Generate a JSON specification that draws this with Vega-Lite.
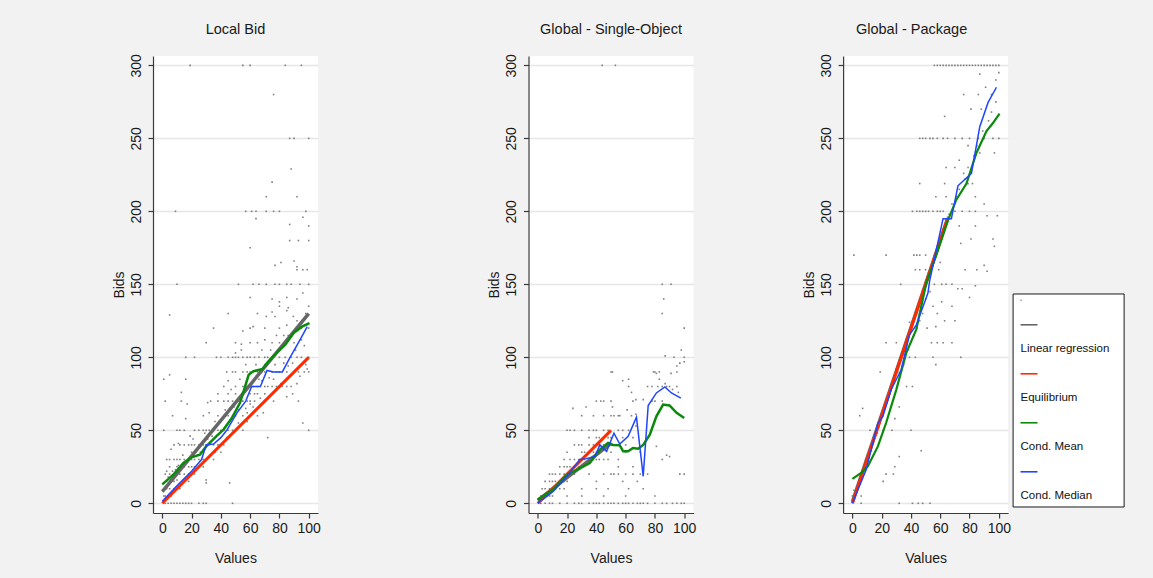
{
"$schema":"https://vega.github.io/schema/vega-lite/v6.json",
"background":"#f2f2f2",
"padding":{"left":112,"top":22,"right":28,"bottom":15},
"config":{
 "font":"Liberation Sans",
 "view":{"stroke":null,"fill":"white"},
 "title":{"font":"Liberation Sans","fontSize":14.5,"fontWeight":"normal","color":"#1a1a1a","frame":"group","anchor":"middle","offset":16},
 "axis":{"domainColor":"#3a3a3a","domainWidth":1.2,"tickColor":"#3a3a3a","tickWidth":1.2,"tickSize":5,"labelFont":"Liberation Sans","labelFontSize":14,"labelColor":"#1a1a1a","titleFont":"Liberation Sans","titleFontSize":14,"titleFontWeight":"normal","titleColor":"#1a1a1a","grid":false,"labelOverlap":false},
 "axisY":{"grid":true,"gridColor":"#e6e6e6","gridWidth":1.5,"labelAngle":-90,"labelPadding":5,"titlePadding":3},
 "axisX":{"labelPadding":3,"titlePadding":16}
},
"datasets":{
"p1":[
{"v":19,"b":300},{"v":55,"b":300},{"v":60,"b":300},{"v":84,"b":300},{"v":95,"b":300},{"v":76,"b":280},{"v":87,"b":250},{"v":90,"b":250},{"v":100,"b":250},{"v":88,"b":229},{"v":75,"b":220},{"v":71,"b":210},{"v":92,"b":210},
{"v":9,"b":200},{"v":57,"b":200},{"v":61,"b":200},{"v":64,"b":200},{"v":71,"b":200},{"v":76,"b":200},{"v":80,"b":200},{"v":98,"b":200},
{"v":64,"b":195},{"v":96,"b":196},{"v":87,"b":191},{"v":100,"b":190},{"v":87,"b":180},{"v":93,"b":180},{"v":100,"b":180},{"v":60,"b":175},{"v":77,"b":163},{"v":81,"b":165},{"v":90,"b":166},{"v":92,"b":162},{"v":92,"b":160},{"v":96,"b":160},{"v":99,"b":160},
{"v":10,"b":150},{"v":52,"b":150},{"v":62,"b":150},{"v":66,"b":150},{"v":71,"b":150},{"v":77,"b":150},{"v":80,"b":150},{"v":85,"b":150},{"v":88,"b":150},{"v":94,"b":150},{"v":100,"b":150},
{"v":60,"b":141},{"v":75,"b":140},{"v":85,"b":141},{"v":92,"b":140},{"v":96,"b":144},{"v":80,"b":138},
{"v":5,"b":129},{"v":45,"b":130},{"v":65,"b":130},{"v":75,"b":131},{"v":85,"b":132},{"v":98,"b":130},{"v":71,"b":128},{"v":77,"b":128},{"v":89.5,"b":128},{"v":100,"b":135},{"v":86,"b":134},{"v":80,"b":135},
{"v":35,"b":120},{"v":55,"b":118},{"v":60,"b":120},{"v":62,"b":121},{"v":70,"b":120},{"v":80,"b":120},{"v":85,"b":122},{"v":95,"b":120},{"v":100,"b":120},
{"v":30,"b":110},{"v":50,"b":110},{"v":54,"b":109},{"v":60,"b":110},{"v":65,"b":110},{"v":70,"b":112},{"v":75,"b":110},{"v":80,"b":110},{"v":90,"b":110},
{"v":16,"b":100},{"v":22,"b":100},{"v":37,"b":100},{"v":40,"b":100},{"v":45,"b":100},{"v":48,"b":100},{"v":50,"b":100},{"v":50,"b":103},{"v":52,"b":100},{"v":54,"b":105},{"v":55,"b":100},{"v":58,"b":100},{"v":60,"b":100},{"v":63,"b":100},{"v":66,"b":100},{"v":70,"b":100},{"v":72,"b":100},{"v":75,"b":100},{"v":80,"b":100},{"v":84,"b":100},{"v":88,"b":100},{"v":92,"b":100},{"v":95,"b":100},{"v":100,"b":100},
{"v":44,"b":90},{"v":45,"b":84},{"v":48,"b":90},{"v":50,"b":90},{"v":55,"b":90},{"v":58,"b":90},{"v":60,"b":90},{"v":62,"b":90},{"v":65,"b":90},{"v":68,"b":90},{"v":70,"b":90},{"v":75,"b":90},{"v":76,"b":85},{"v":78,"b":90},{"v":80,"b":90},{"v":81,"b":82},{"v":85,"b":90},{"v":90,"b":90},{"v":92,"b":82},{"v":93,"b":90},{"v":94,"b":87},{"v":97,"b":90},{"v":99,"b":92},{"v":100,"b":90},{"v":16,"b":85},{"v":1,"b":85},{"v":5,"b":88},
{"v":42,"b":80},{"v":50,"b":80},{"v":55,"b":80},{"v":58,"b":80},{"v":60,"b":80},{"v":62,"b":80},{"v":65,"b":80},{"v":70,"b":80},{"v":72,"b":80},{"v":75,"b":80},{"v":78,"b":80},{"v":80,"b":80},{"v":82,"b":80},{"v":85,"b":80},{"v":88,"b":80},{"v":85,"b":73},{"v":13,"b":76},
{"v":38,"b":75},{"v":45,"b":75},{"v":50,"b":75},{"v":55,"b":75},{"v":60,"b":75},{"v":65,"b":75},{"v":70,"b":75},
{"v":33,"b":70},{"v":38,"b":70},{"v":42,"b":70},{"v":45,"b":70},{"v":48,"b":70},{"v":52,"b":70},{"v":55,"b":70},{"v":58,"b":70},{"v":60,"b":70},{"v":63,"b":70},{"v":13,"b":70},{"v":2,"b":70},{"v":31,"b":69},{"v":60,"b":68},{"v":17,"b":68},
{"v":28,"b":60},{"v":32,"b":62},{"v":38,"b":60},{"v":42,"b":60},{"v":45,"b":60},{"v":48,"b":60},{"v":50,"b":60},{"v":55,"b":60},{"v":65,"b":60},{"v":16,"b":58},{"v":36,"b":56},{"v":96,"b":55},{"v":7,"b":60},
{"v":1,"b":50},{"v":10,"b":50},{"v":12,"b":50},{"v":15,"b":50},{"v":22,"b":50},{"v":25,"b":50},{"v":28,"b":50},{"v":29,"b":48},{"v":30,"b":50},{"v":32,"b":50},{"v":35,"b":50},{"v":38,"b":50},{"v":40,"b":50},{"v":42,"b":50},{"v":45,"b":50},{"v":48,"b":50},{"v":50,"b":50},{"v":55,"b":50},{"v":100,"b":50},{"v":72,"b":45},{"v":19,"b":46},{"v":21,"b":44},
{"v":8,"b":40},{"v":11,"b":41},{"v":12,"b":40},{"v":15,"b":40},{"v":18,"b":40},{"v":20,"b":40},{"v":22,"b":40},{"v":25,"b":40},{"v":28,"b":40},{"v":30,"b":40},{"v":35,"b":40},{"v":38,"b":40},{"v":40,"b":40},{"v":42,"b":40},{"v":6,"b":37},
{"v":3,"b":30},{"v":5,"b":30},{"v":8,"b":30},{"v":10,"b":30},{"v":12,"b":30},{"v":15,"b":30},{"v":18,"b":30},{"v":20,"b":30},{"v":22,"b":30},{"v":25,"b":30},{"v":28,"b":30},{"v":30,"b":30},{"v":35,"b":30},
{"v":5,"b":25},{"v":9,"b":23},{"v":10,"b":25},{"v":15,"b":25},{"v":18,"b":25},{"v":20,"b":25},{"v":22,"b":25},{"v":25,"b":25},{"v":28,"b":25},
{"v":2,"b":20},{"v":5,"b":20},{"v":8,"b":20},{"v":10,"b":20},{"v":12,"b":20},{"v":15,"b":20},{"v":18,"b":20},{"v":20,"b":20},{"v":22,"b":20},
{"v":3,"b":15},{"v":5,"b":15},{"v":8,"b":15},{"v":10,"b":16},{"v":15,"b":15},{"v":18,"b":15},{"v":30,"b":14},{"v":30,"b":16},{"v":46,"b":14},
{"v":1,"b":10},{"v":3,"b":10},{"v":5,"b":10},{"v":8,"b":10},{"v":10,"b":10},{"v":12,"b":10},{"v":1,"b":5},{"v":2,"b":5},{"v":4,"b":5},{"v":6,"b":5},
{"v":2,"b":0},{"v":4,"b":0},{"v":6,"b":0},{"v":8,"b":0},{"v":10,"b":0},{"v":12,"b":0},{"v":14,"b":0},{"v":16,"b":0},{"v":18,"b":0},{"v":20,"b":0},{"v":25,"b":0},{"v":28,"b":0},{"v":30,"b":0},{"v":48,"b":0},
{"v":46,"b":65},{"v":49,"b":66},{"v":52,"b":64},{"v":57,"b":65},{"v":62,"b":66},{"v":67,"b":72},{"v":68,"b":84},{"v":73,"b":86},{"v":77,"b":95},{"v":83,"b":96},{"v":86,"b":94},{"v":89,"b":96},{"v":91,"b":105},{"v":97,"b":108},{"v":83,"b":115},{"v":78,"b":115},{"v":68,"b":105},{"v":64,"b":95},{"v":57,"b":95},{"v":53,"b":85},{"v":47,"b":78},{"v":43,"b":64},{"v":40,"b":56},{"v":34,"b":46},{"v":31,"b":44},{"v":26,"b":35},{"v":24,"b":33},{"v":20,"b":35},{"v":14,"b":33},{"v":11,"b":26},{"v":7,"b":22},{"v":4,"b":18},{"v":3,"b":22},{"v":36,"b":35},{"v":40,"b":35},{"v":44,"b":45},{"v":52,"b":55},{"v":58,"b":62},{"v":63,"b":75},{"v":66,"b":85},{"v":70,"b":95},{"v":74,"b":105},{"v":86,"b":115},{"v":92,"b":125},{"v":95,"b":112},{"v":98,"b":95},{"v":93,"b":70},{"v":89,"b":75},{"v":76,"b":70},{"v":69,"b":62},{"v":58,"b":56}
],
"p2":[
{"v":44,"b":300},{"v":53,"b":300},
{"v":85,"b":150},{"v":91,"b":150},{"v":86,"b":140},{"v":85,"b":130},{"v":100,"b":120},{"v":98,"b":105},{"v":100,"b":100},{"v":87,"b":101},{"v":100,"b":97},{"v":93,"b":100},
{"v":51,"b":90},{"v":58,"b":84},{"v":62,"b":85},{"v":64,"b":76},{"v":67,"b":71},{"v":72,"b":71},{"v":79,"b":90},{"v":81,"b":89},{"v":83,"b":85},{"v":87,"b":82},{"v":91,"b":89},{"v":95,"b":94},{"v":97,"b":96},{"v":92,"b":78},{"v":96,"b":76},{"v":64,"b":60},{"v":67,"b":61},{"v":61,"b":64},{"v":56,"b":60},{"v":67,"b":53},{"v":76,"b":46},{"v":81,"b":39},{"v":88,"b":33},{"v":90,"b":32},{"v":97,"b":20},{"v":100,"b":20},{"v":40,"b":70},{"v":43,"b":70},{"v":24,"b":65},{"v":33,"b":66},{"v":51,"b":66},
{"v":20,"b":50},{"v":22,"b":50},{"v":25,"b":50},{"v":30,"b":50},{"v":35,"b":50},{"v":38,"b":50},{"v":40,"b":50},{"v":45,"b":50},{"v":48,"b":50},{"v":55,"b":50},{"v":58,"b":50},{"v":62,"b":50},
{"v":30,"b":60},{"v":38,"b":60},{"v":45,"b":60},{"v":50,"b":60},{"v":52,"b":60},{"v":55,"b":60},
{"v":2,"b":0},{"v":5,"b":0},{"v":8,"b":0},{"v":10,"b":0},{"v":15,"b":0},{"v":20,"b":0},{"v":25,"b":0},{"v":28,"b":0},{"v":30,"b":0},{"v":35,"b":0},{"v":38,"b":0},{"v":40,"b":0},{"v":42,"b":0},{"v":45,"b":0},{"v":48,"b":0},{"v":50,"b":0},{"v":52,"b":0},{"v":55,"b":0},{"v":58,"b":0},{"v":60,"b":0},{"v":62,"b":0},{"v":65,"b":0},{"v":68,"b":0},{"v":70,"b":0},{"v":72,"b":0},{"v":75,"b":0},{"v":80,"b":0},{"v":85,"b":0},{"v":88,"b":0},{"v":92,"b":0},{"v":95,"b":0},{"v":98,"b":0},{"v":100,"b":0},
{"v":8,"b":20},{"v":10,"b":20},{"v":12,"b":20},{"v":15,"b":20},{"v":18,"b":20},{"v":22,"b":20},{"v":25,"b":20},{"v":35,"b":20},{"v":45,"b":20},{"v":50,"b":20},{"v":52,"b":20},{"v":55,"b":20},{"v":60,"b":20},{"v":65,"b":20},{"v":70,"b":20},{"v":75,"b":20},
{"v":3,"b":10},{"v":5,"b":10},{"v":8,"b":10},{"v":12,"b":10},{"v":15,"b":10},{"v":18,"b":10},{"v":30,"b":10},{"v":40,"b":10},{"v":48,"b":10},{"v":62,"b":10},{"v":72,"b":10},
{"v":18,"b":30},{"v":22,"b":30},{"v":25,"b":30},{"v":28,"b":30},{"v":30,"b":30},{"v":32,"b":30},{"v":35,"b":30},{"v":38,"b":30},{"v":40,"b":30},{"v":42,"b":30},{"v":45,"b":30},{"v":48,"b":30},{"v":55,"b":30},{"v":85,"b":30},
{"v":25,"b":40},{"v":28,"b":40},{"v":30,"b":40},{"v":35,"b":40},{"v":38,"b":40},{"v":42,"b":40},{"v":45,"b":40},{"v":48,"b":40},{"v":50,"b":40},{"v":52,"b":40},{"v":55,"b":40},{"v":60,"b":40},
{"v":15,"b":25},{"v":18,"b":25},{"v":20,"b":25},{"v":22,"b":25},{"v":25,"b":25},{"v":28,"b":25},{"v":30,"b":25},{"v":55,"b":25},{"v":65,"b":25},
{"v":5,"b":15},{"v":8,"b":15},{"v":10,"b":15},{"v":12,"b":15},{"v":15,"b":15},{"v":18,"b":15},{"v":20,"b":15},{"v":40,"b":15},{"v":58,"b":15},{"v":68,"b":15},
{"v":2,"b":5},{"v":3,"b":5},{"v":5,"b":5},{"v":8,"b":5},{"v":10,"b":5},{"v":20,"b":5},{"v":30,"b":5},{"v":45,"b":5},{"v":60,"b":5},{"v":80,"b":5},
{"v":20,"b":35},{"v":30,"b":35},{"v":32,"b":35},{"v":38,"b":35},{"v":40,"b":35},{"v":42,"b":35},{"v":50,"b":35},{"v":60,"b":35},{"v":70,"b":35},
{"v":35,"b":45},{"v":40,"b":45},{"v":42,"b":45},{"v":48,"b":45},{"v":50,"b":45},{"v":58,"b":45},{"v":65,"b":45},
{"v":45,"b":70},{"v":50,"b":70},{"v":65,"b":70},{"v":78,"b":70},{"v":80,"b":70},{"v":85,"b":70},
{"v":62,"b":80},{"v":75,"b":80},{"v":78,"b":80},{"v":82,"b":80},{"v":85,"b":80},{"v":88,"b":80},{"v":90,"b":80},{"v":95,"b":80},
{"v":50,"b":90},{"v":80,"b":90},{"v":83,"b":90},{"v":95,"b":90}
],
"p3":[
{"v":56,"b":300},{"v":58,"b":300},{"v":60,"b":300},{"v":62,"b":300},{"v":64,"b":300},{"v":66,"b":300},{"v":68,"b":300},{"v":70,"b":300},{"v":72,"b":300},{"v":74,"b":300},{"v":76,"b":300},{"v":78,"b":300},{"v":80,"b":300},{"v":82,"b":300},{"v":84,"b":300},{"v":86,"b":300},{"v":88,"b":300},{"v":90,"b":300},{"v":92,"b":300},{"v":94,"b":300},{"v":96,"b":300},{"v":98,"b":300},{"v":100,"b":300},
{"v":76,"b":280},{"v":86,"b":280},{"v":95,"b":280},{"v":100,"b":295},{"v":98,"b":290},{"v":87,"b":294},{"v":81,"b":270},{"v":88,"b":270},{"v":97,"b":240},{"v":63,"b":265},{"v":87,"b":240},{"v":70,"b":230},{"v":64,"b":230},{"v":46,"b":219},{"v":63,"b":219},{"v":76,"b":226},{"v":79,"b":219},{"v":82,"b":219},{"v":57,"b":210},{"v":64,"b":210},{"v":84,"b":210},{"v":90,"b":205},{"v":99,"b":197},{"v":92,"b":197},{"v":73,"b":190},{"v":84,"b":190},{"v":74,"b":178},{"v":81,"b":181},{"v":96,"b":181},{"v":90,"b":163},{"v":92,"b":159},{"v":85,"b":160},{"v":77,"b":160},{"v":97,"b":176},
{"v":46,"b":250},{"v":48,"b":250},{"v":50,"b":250},{"v":53,"b":250},{"v":55,"b":250},{"v":58,"b":250},{"v":62,"b":250},{"v":65,"b":250},{"v":70,"b":250},{"v":75,"b":250},{"v":80,"b":250},{"v":86,"b":250},{"v":90,"b":250},{"v":96,"b":250},{"v":100,"b":250},
{"v":41,"b":200},{"v":44,"b":200},{"v":46,"b":200},{"v":48,"b":200},{"v":50,"b":200},{"v":52,"b":200},{"v":55,"b":200},{"v":58,"b":200},{"v":60,"b":200},{"v":62,"b":200},{"v":70,"b":200},{"v":75,"b":200},{"v":80,"b":200},{"v":84,"b":200},
{"v":1,"b":170},{"v":23,"b":170},{"v":42,"b":170},{"v":44,"b":170},{"v":46,"b":170},{"v":50,"b":170},
{"v":43,"b":160},{"v":46,"b":160},{"v":50,"b":160},{"v":59,"b":160},
{"v":33,"b":150},{"v":61,"b":150},{"v":64,"b":150},{"v":68,"b":150},{"v":72,"b":147},{"v":80,"b":141},{"v":75,"b":147},{"v":84,"b":149},{"v":61,"b":138},{"v":68,"b":135},{"v":55,"b":135},{"v":58,"b":130},{"v":70,"b":125},{"v":63,"b":125},{"v":57,"b":121},{"v":51,"b":120},{"v":44,"b":120},{"v":39,"b":124},{"v":54,"b":110},{"v":58,"b":110},{"v":62,"b":110},{"v":68,"b":110},{"v":23,"b":110},{"v":30,"b":110},{"v":55,"b":100},{"v":43,"b":100},{"v":39,"b":100},{"v":57,"b":95},{"v":74,"b":100},{"v":41,"b":80},{"v":37,"b":80},{"v":19,"b":90},{"v":7,"b":65},{"v":5,"b":60},{"v":32,"b":66},{"v":29,"b":58},{"v":40,"b":50},{"v":12,"b":50},{"v":16,"b":50},{"v":21,"b":50},{"v":27,"b":50},{"v":47,"b":36},{"v":29,"b":25},{"v":23,"b":20},{"v":28,"b":20},{"v":21,"b":15},{"v":32,"b":32},{"v":6,"b":5},{"v":6,"b":0},{"v":32,"b":0},{"v":41,"b":0},{"v":45,"b":0},{"v":48,"b":0},{"v":53,"b":0},{"v":0,"b":5},{"v":1,"b":9},{"v":4,"b":14},
{"v":8,"b":25},{"v":10,"b":28},{"v":12,"b":38},{"v":14,"b":42},{"v":15,"b":45},{"v":17,"b":48},{"v":19,"b":55},{"v":20,"b":62},{"v":22,"b":65},{"v":24,"b":72},{"v":25,"b":75},{"v":26,"b":78},{"v":28,"b":85},{"v":29,"b":88},{"v":30,"b":92},{"v":32,"b":96},{"v":33,"b":100},{"v":34,"b":102},{"v":35,"b":105},{"v":36,"b":110},{"v":38,"b":112},{"v":39,"b":118},{"v":40,"b":120},{"v":41,"b":122},{"v":42,"b":126},{"v":44,"b":130},{"v":45,"b":135},{"v":46,"b":138},{"v":47,"b":142},{"v":48,"b":146},{"v":50,"b":152},{"v":51,"b":155},{"v":52,"b":158},{"v":54,"b":162},{"v":55,"b":166},{"v":56,"b":170},{"v":57,"b":172},{"v":58,"b":176},{"v":59,"b":180},{"v":60,"b":182},{"v":62,"b":188},{"v":64,"b":192},{"v":65,"b":196},
{"v":38,"b":105},{"v":42,"b":115},{"v":46,"b":125},{"v":50,"b":140},{"v":53,"b":145},{"v":56,"b":150},{"v":60,"b":165},{"v":48,"b":130},{"v":35,"b":95},
{"v":9,"b":30},{"v":11,"b":33},{"v":13,"b":36},{"v":16,"b":50},{"v":18,"b":52},{"v":21,"b":60},{"v":23,"b":68},{"v":27,"b":80},{"v":31,"b":90},{"v":37,"b":108},{"v":43,"b":128},{"v":49,"b":148},{"v":53,"b":160},{"v":61,"b":185},{"v":63,"b":190},{"v":66,"b":198},{"v":68,"b":205},{"v":71,"b":210},{"v":73,"b":215},{"v":77,"b":222},{"v":79,"b":230},{"v":83,"b":238},{"v":85,"b":245},{"v":89,"b":255},{"v":93,"b":262},{"v":95,"b":268},{"v":98,"b":275},{"v":91,"b":285},{"v":79,"b":245},{"v":73,"b":235}
],
"lines":[
{"p":1,"s":"reg","v":0,"b":8},{"p":1,"s":"reg","v":100,"b":130},
{"p":1,"s":"eq","v":0,"b":0},{"p":1,"s":"eq","v":100,"b":100},
{"p":1,"s":"mean","v":0,"b":13},{"p":1,"s":"mean","v":7.5,"b":19.6},{"p":1,"s":"mean","v":14.4,"b":27.6},{"p":1,"s":"mean","v":20,"b":31.5},{"p":1,"s":"mean","v":25.7,"b":33.3},{"p":1,"s":"mean","v":30,"b":39},{"p":1,"s":"mean","v":37,"b":46},{"p":1,"s":"mean","v":41.8,"b":50.5},{"p":1,"s":"mean","v":47.5,"b":58.4},{"p":1,"s":"mean","v":53,"b":68.7},{"p":1,"s":"mean","v":55.9,"b":77.9},{"p":1,"s":"mean","v":59,"b":88},{"p":1,"s":"mean","v":62,"b":90.4},{"p":1,"s":"mean","v":68.5,"b":92},{"p":1,"s":"mean","v":71.5,"b":96},{"p":1,"s":"mean","v":78,"b":103},{"p":1,"s":"mean","v":84,"b":108.7},{"p":1,"s":"mean","v":89.7,"b":116.7},{"p":1,"s":"mean","v":95.4,"b":121},{"p":1,"s":"mean","v":100.5,"b":123.5},
{"p":1,"s":"med","v":0,"b":1.4},{"p":1,"s":"med","v":10,"b":12},{"p":1,"s":"med","v":20,"b":22},{"p":1,"s":"med","v":26.8,"b":30},{"p":1,"s":"med","v":30,"b":40},{"p":1,"s":"med","v":35,"b":40.6},{"p":1,"s":"med","v":40,"b":45},{"p":1,"s":"med","v":44,"b":50},{"p":1,"s":"med","v":51,"b":62},{"p":1,"s":"med","v":57,"b":70},{"p":1,"s":"med","v":61,"b":80},{"p":1,"s":"med","v":67,"b":80},{"p":1,"s":"med","v":71.5,"b":91},{"p":1,"s":"med","v":76,"b":90},{"p":1,"s":"med","v":82,"b":90},{"p":1,"s":"med","v":87,"b":99.5},{"p":1,"s":"med","v":93,"b":110},{"p":1,"s":"med","v":99,"b":121},
{"p":2,"s":"reg","v":0,"b":2},{"p":2,"s":"reg","v":50,"b":41},
{"p":2,"s":"eq","v":0,"b":0},{"p":2,"s":"eq","v":50,"b":50},
{"p":2,"s":"mean","v":0,"b":2.5},{"p":2,"s":"mean","v":10.5,"b":9.4},{"p":2,"s":"mean","v":20,"b":19.6},{"p":2,"s":"mean","v":28.7,"b":24},{"p":2,"s":"mean","v":35.5,"b":27.6},{"p":2,"s":"mean","v":42.4,"b":36.8},{"p":2,"s":"mean","v":48,"b":41.3},{"p":2,"s":"mean","v":51.5,"b":40},{"p":2,"s":"mean","v":56,"b":39.7},{"p":2,"s":"mean","v":58.3,"b":35.6},{"p":2,"s":"mean","v":61.7,"b":35.6},{"p":2,"s":"mean","v":65,"b":37.9},{"p":2,"s":"mean","v":68.5,"b":37.4},{"p":2,"s":"mean","v":72,"b":40},{"p":2,"s":"mean","v":76.5,"b":47},{"p":2,"s":"mean","v":81,"b":59.6},{"p":2,"s":"mean","v":85.6,"b":67.6},{"p":2,"s":"mean","v":90,"b":67},{"p":2,"s":"mean","v":94.8,"b":62},{"p":2,"s":"mean","v":100,"b":58.4},
{"p":2,"s":"med","v":0,"b":0},{"p":2,"s":"med","v":10.5,"b":8.2},{"p":2,"s":"med","v":20,"b":18.5},{"p":2,"s":"med","v":28.7,"b":30},{"p":2,"s":"med","v":33,"b":30.6},{"p":2,"s":"med","v":39,"b":32},{"p":2,"s":"med","v":42.4,"b":40},{"p":2,"s":"med","v":47,"b":35.6},{"p":2,"s":"med","v":52,"b":48},{"p":2,"s":"med","v":56,"b":40.6},{"p":2,"s":"med","v":61.7,"b":45.9},{"p":2,"s":"med","v":67.4,"b":59},{"p":2,"s":"med","v":72,"b":18.5},{"p":2,"s":"med","v":75.4,"b":67},{"p":2,"s":"med","v":81,"b":75.6},{"p":2,"s":"med","v":86.8,"b":79.7},{"p":2,"s":"med","v":91.3,"b":75.6},{"p":2,"s":"med","v":97.7,"b":72},
{"p":3,"s":"reg","v":0,"b":1},{"p":3,"s":"reg","v":65,"b":195},
{"p":3,"s":"eq","v":0,"b":0},{"p":3,"s":"eq","v":65,"b":195},
{"p":3,"s":"mean","v":0,"b":16.7},{"p":3,"s":"mean","v":6,"b":20.8},{"p":3,"s":"mean","v":10.5,"b":25.3},{"p":3,"s":"mean","v":17.4,"b":39},{"p":3,"s":"mean","v":23,"b":55},{"p":3,"s":"mean","v":30,"b":77.9},{"p":3,"s":"mean","v":36.8,"b":103},{"p":3,"s":"mean","v":43.6,"b":119},{"p":3,"s":"mean","v":50.5,"b":151},{"p":3,"s":"mean","v":58,"b":172},{"p":3,"s":"mean","v":65.3,"b":194},{"p":3,"s":"mean","v":71,"b":208},{"p":3,"s":"mean","v":77.9,"b":219},{"p":3,"s":"mean","v":84.7,"b":240},{"p":3,"s":"mean","v":91.6,"b":255},{"p":3,"s":"mean","v":96,"b":260.5},{"p":3,"s":"mean","v":100.5,"b":267},
{"p":3,"s":"med","v":0,"b":0},{"p":3,"s":"med","v":9.4,"b":23},{"p":3,"s":"med","v":17.4,"b":55},{"p":3,"s":"med","v":20.8,"b":59.6},{"p":3,"s":"med","v":26.5,"b":78},{"p":3,"s":"med","v":33.3,"b":91.5},{"p":3,"s":"med","v":39,"b":115.5},{"p":3,"s":"med","v":43.6,"b":122},{"p":3,"s":"med","v":51.6,"b":144},{"p":3,"s":"med","v":52.7,"b":152},{"p":3,"s":"med","v":61.9,"b":195},{"p":3,"s":"med","v":67.6,"b":195},{"p":3,"s":"med","v":72.1,"b":217.5},{"p":3,"s":"med","v":81.3,"b":226},{"p":3,"s":"med","v":87,"b":258},{"p":3,"s":"med","v":92.7,"b":274.6},{"p":3,"s":"med","v":98.4,"b":285}
],
"legend":[
{"row":0,"kind":"dot","label":"Scatter"},
{"row":1,"kind":"line","label":"Linear regression"},
{"row":2,"kind":"label","label":"Linear regression"},
{"row":3,"kind":"line","label":"Equilibrium"},
{"row":4,"kind":"label","label":"Equilibrium"},
{"row":5,"kind":"line","label":"Cond. Mean"},
{"row":6,"kind":"label","label":"Cond. Mean"},
{"row":7,"kind":"line","label":"Cond. Median"},
{"row":8,"kind":"label","label":"Cond. Median"}
],
"frame":[{"x0":0,"x1":100,"r0":-0.257,"r1":8.437}]
},
"spacing":166.5,
"hconcat":[
{
 "width":165,"height":457,
 "title":{"text":"Local Bid"},
 "layer":[
  {"data":{"name":"p1"},"mark":{"type":"square","size":2.5,"color":"#707070","opacity":0.9},
   "encoding":{"x":{"field":"v","type":"quantitative","scale":{"domain":[-6.35,106.35],"nice":false,"zero":false},"axis":{"title":"Values","values":[0,20,40,60,80,100],"tickCount":20,"labelOverlap":false,"labelBound":false}},
    "y":{"field":"b","type":"quantitative","scale":{"domain":[-6.64,306.4],"nice":false,"zero":false},"axis":{"title":"Bids","values":[0,50,100,150,200,250,300],"tickCount":20,"labelOverlap":false}}}},
  {"data":{"name":"lines"},"transform":[{"filter":"datum.p == 1 && datum.s == 'reg'"}],"mark":{"type":"line","color":"#666666","strokeWidth":3.5},"encoding":{"x":{"field":"v","type":"quantitative"},"y":{"field":"b","type":"quantitative"}}},
  {"data":{"name":"lines"},"transform":[{"filter":"datum.p == 1 && datum.s == 'eq'"}],"mark":{"type":"line","color":"#ff2a00","strokeWidth":3},"encoding":{"x":{"field":"v","type":"quantitative"},"y":{"field":"b","type":"quantitative"}}},
  {"data":{"name":"lines"},"transform":[{"filter":"datum.p == 1 && datum.s == 'mean'"}],"mark":{"type":"line","color":"#0a8a0a","strokeWidth":2.5},"encoding":{"x":{"field":"v","type":"quantitative"},"y":{"field":"b","type":"quantitative"}}},
  {"data":{"name":"lines"},"transform":[{"filter":"datum.p == 1 && datum.s == 'med'"}],"mark":{"type":"line","color":"#1f45ff","strokeWidth":1.5},"encoding":{"x":{"field":"v","type":"quantitative"},"y":{"field":"b","type":"quantitative"}}}
 ]
},
{
 "spacing":105.6,
 "hconcat":[
 {
  "width":165,"height":457,
  "title":{"text":"Global - Single-Object"},
  "layer":[
   {"data":{"name":"p2"},"mark":{"type":"square","size":2.5,"color":"#707070","opacity":0.9},
    "encoding":{"x":{"field":"v","type":"quantitative","scale":{"domain":[-6.35,106.35],"nice":false,"zero":false},"axis":{"title":"Values","values":[0,20,40,60,80,100],"tickCount":20,"labelOverlap":false,"labelBound":false}},
     "y":{"field":"b","type":"quantitative","scale":{"domain":[-6.64,306.4],"nice":false,"zero":false},"axis":{"title":"Bids","values":[0,50,100,150,200,250,300],"tickCount":20,"labelOverlap":false}}}},
   {"data":{"name":"lines"},"transform":[{"filter":"datum.p == 2 && datum.s == 'reg'"}],"mark":{"type":"line","color":"#666666","strokeWidth":3.5},"encoding":{"x":{"field":"v","type":"quantitative"},"y":{"field":"b","type":"quantitative"}}},
   {"data":{"name":"lines"},"transform":[{"filter":"datum.p == 2 && datum.s == 'eq'"}],"mark":{"type":"line","color":"#ff2a00","strokeWidth":3},"encoding":{"x":{"field":"v","type":"quantitative"},"y":{"field":"b","type":"quantitative"}}},
   {"data":{"name":"lines"},"transform":[{"filter":"datum.p == 2 && datum.s == 'mean'"}],"mark":{"type":"line","color":"#0a8a0a","strokeWidth":2.5},"encoding":{"x":{"field":"v","type":"quantitative"},"y":{"field":"b","type":"quantitative"}}},
   {"data":{"name":"lines"},"transform":[{"filter":"datum.p == 2 && datum.s == 'med'"}],"mark":{"type":"line","color":"#1f45ff","strokeWidth":1.5},"encoding":{"x":{"field":"v","type":"quantitative"},"y":{"field":"b","type":"quantitative"}}}
  ]
 },
 {
  "spacing":1,
  "hconcat":[
  {
   "width":165,"height":457,
   "title":{"text":"Global - Package","dx":-14},
   "layer":[
    {"data":{"name":"p3"},"mark":{"type":"square","size":2.5,"color":"#707070","opacity":0.9},
     "encoding":{"x":{"field":"v","type":"quantitative","scale":{"domain":[-6.35,106.35],"nice":false,"zero":false},"axis":{"title":"Values","values":[0,20,40,60,80,100],"tickCount":20,"labelOverlap":false,"labelBound":false}},
      "y":{"field":"b","type":"quantitative","scale":{"domain":[-6.64,306.4],"nice":false,"zero":false},"axis":{"title":"Bids","values":[0,50,100,150,200,250,300],"tickCount":20,"labelOverlap":false}}}},
    {"data":{"name":"lines"},"transform":[{"filter":"datum.p == 3 && datum.s == 'reg'"}],"mark":{"type":"line","color":"#666666","strokeWidth":3.5},"encoding":{"x":{"field":"v","type":"quantitative"},"y":{"field":"b","type":"quantitative"}}},
    {"data":{"name":"lines"},"transform":[{"filter":"datum.p == 3 && datum.s == 'eq'"}],"mark":{"type":"line","color":"#ff2a00","strokeWidth":3},"encoding":{"x":{"field":"v","type":"quantitative"},"y":{"field":"b","type":"quantitative"}}},
    {"data":{"name":"lines"},"transform":[{"filter":"datum.p == 3 && datum.s == 'mean'"}],"mark":{"type":"line","color":"#0a8a0a","strokeWidth":2.2},"encoding":{"x":{"field":"v","type":"quantitative"},"y":{"field":"b","type":"quantitative"}}},
    {"data":{"name":"lines"},"transform":[{"filter":"datum.p == 3 && datum.s == 'med'"}],"mark":{"type":"line","color":"#1f45ff","strokeWidth":1.5},"encoding":{"x":{"field":"v","type":"quantitative"},"y":{"field":"b","type":"quantitative"}}}
   ]
  },
  {
   "width":111,"height":457,
   "view":{"stroke":null,"fill":null},
   "layer":[
    {"data":{"name":"frame"},
     "mark":{"type":"rect","fill":"white","stroke":"#1a1a1a","strokeWidth":1},
     "encoding":{"x":{"field":"x0","type":"quantitative","scale":{"domain":[0,100],"nice":false,"zero":false},"axis":null},"x2":{"field":"x1"},
      "y":{"field":"r0","type":"quantitative","scale":{"domain":[-9.971,8.682],"reverse":true,"nice":false,"zero":false},"axis":null},"y2":{"field":"r1"}}},
    {"data":{"name":"legend"},"transform":[{"filter":"datum.kind == 'label'"}],
     "mark":{"type":"text","align":"left","baseline":"middle","fontSize":11.5,"font":"Liberation Sans","color":"#111111"},
     "encoding":{"x":{"datum":6.7,"type":"quantitative"},
      "y":{"field":"row","type":"quantitative"},
      "text":{"field":"label"}}},
    {"data":{"name":"legend"},"transform":[{"filter":"datum.kind == 'line'"}],
     "mark":{"type":"rule","strokeWidth":1.6},
     "encoding":{"x":{"datum":6.7,"type":"quantitative"},"x2":{"datum":22},
      "y":{"field":"row","type":"quantitative"},
      "color":{"field":"label","type":"nominal","scale":{"domain":["Linear regression","Equilibrium","Cond. Mean","Cond. Median"],"range":["#666666","#ff2a00","#0a8a0a","#1f45ff"]},"legend":null}}},
    {"data":{"name":"legend"},"transform":[{"filter":"datum.kind == 'dot'"}],
     "mark":{"type":"square","size":2.5,"color":"#7a7a7a"},
     "encoding":{"x":{"datum":7.2,"type":"quantitative"},"y":{"field":"row","type":"quantitative"}}}
   ]
  }
  ]
 }
 ]
}
]
}
